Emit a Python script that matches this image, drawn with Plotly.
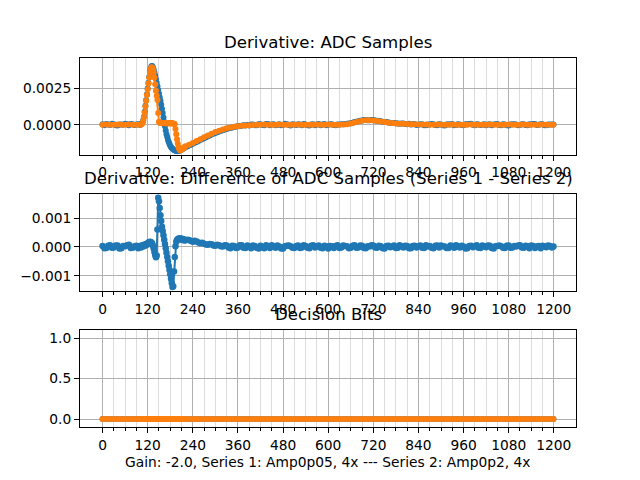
import numpy as np
import plotly.graph_objects as go

# sample indices (denser around the pulse)
samples_fine = list(range(0, 100, 5)) + list(range(100, 220, 2)) + list(range(220, 1200, 5)) + [1199]
samples = list(range(0, 100, 10)) + list(range(100, 220, 2)) + list(range(220, 1200, 10)) + [1199]

# x tick positions
major_ticks = list(range(0, 1201, 120))
minor_ticks = [t for t in range(30, 1200, 30) if t % 120]

# derivative of ADC samples, series 1 (units of 1e-4), on samples_fine
deriv_s1 = [
    0.3, -0.4, 0.5, 0.1, -0.2, 0.6, 0.4, -0.3, -0.5, 0.2,
    0.2, -0.1, 0.6, 0.3, -0.3, 0.5, 0.4, -0.2, 0.1, 0.3,
    # 100 .. 218, step 2
    -0.2, 0.4, 0.8, 1.5, 3.0, 5.5, 9.0, 13.0, 17.0, 21.0,
    25.0, 29.0, 33.0, 36.5, 39.0, 40.3, 40.5, 39.5, 38.0, 36.0,
    34.0, 31.5, 29.0, 26.5, 24.0, 21.5, 19.0, 16.5, 14.0, 11.0,
    8.0, 5.0, 2.0, -1.0, -4.0, -6.5, -8.5, -10.5, -12.0, -13.3,
    -14.5, -15.3, -16.0, -16.6, -17.0, -17.4, -17.7, -17.9, -18.1, -18.2,
    -18.3, -18.2, -18.0, -17.7, -17.4, -17.1, -16.8, -16.5, -16.2, -15.9,
    # 220 .. 1195, step 5
    -15.6, -15.0, -14.4, -13.8, -13.2, -12.5, -11.9, -11.2, -10.5, -9.9,
    -9.3, -8.6, -8.0, -7.4, -6.8, -6.2, -5.7, -5.2, -4.7, -4.2,
    -3.8, -3.3, -2.9, -2.5, -2.2, -1.9, -1.6, -1.3, -1.1, -0.9,
    -0.8, -0.4, -0.6, -0.2, -0.5, 0.1, 0.2, -0.4, -0.3, 0.3,
    0.3, -0.2, -0.4, 0.5, 0.5, -0.3, 0.1, 0.4, -0.3, -0.1,
    0.4, -0.4, -0.2, 0.6, 0.3, -0.1, -0.5, 0.3, 0.2, -0.2,
    0.4, 0.1, -0.3, 0.5, 0.1, -0.4, -0.5, 0.2, 0.3, -0.3,
    0.2, 0.5, -0.4, 0.1, 0.5, -0.3, -0.1, 0.4, 0.3, -0.2,
    -0.3, 0.1, 0.2, 0.4, 0.4, 0.3, 0.6, 0.8, 1.0, 1.4,
    1.8, 2.1, 2.4, 2.7, 2.9, 3.2, 3.3, 3.1, 3.1, 3.3,
    3.2, 2.9, 2.7, 2.6, 2.4, 2.1, 1.9, 1.8, 1.6, 1.3,
    1.2, 1.1, 1.0, 0.8, 0.7, 0.9, 0.8, 0.5, 0.4, 0.6,
    0.2, 0.4, 0.5, -0.2, -0.1, 0.4, 0.3, -0.3, -0.4, 0.2,
    0.2, 0.5, 0.4, -0.2, -0.3, 0.3, 0.1, -0.4, -0.5, 0.2,
    0.3, 0.1, 0.5, -0.3, -0.2, 0.4, 0.1, -0.2, -0.4, 0.3,
    0.3, 0.5, 0.6, -0.1, -0.3, 0.3, 0.2, -0.2, -0.1, 0.4,
    -0.4, 0.2, 0.3, -0.3, 0.1, 0.4, 0.5, -0.2, -0.3, 0.3,
    0.2, -0.4, -0.5, 0.1, 0.4, 0.3, 0.1, -0.3, -0.2, 0.4,
    0.3, -0.2, -0.4, 0.3, 0.2, 0.5, 0.5, -0.2, -0.1, 0.4,
    0.3, -0.4, -0.3, 0.1, 0.2, 0.1,
    0.2,
]

# derivative of ADC samples, series 2 (units of 1e-4), on samples
deriv_s2 = [
    0.0, 0.1, 0.0, -0.1, 0.1, 0.0, 0.0, 0.1, -0.1, 0.0,
    0.0, 0.1, 0.3, 1.0, 2.5, 5.0, 8.5, 12.5, 16.5, 20.5,
    24.5, 28.5, 32.5, 36.0, 38.5, 39.6, 39.5, 38.5, 36.0, 32.5,
    28.0, 23.5, 20.0, 17.0, 8.0, 2.0, 1.4, 1.2, 1.1, 1.0,
    1.1, 1.0, 1.2, 1.0, 1.1, 0.9, 1.0, 1.1, 1.0, 0.9,
    1.0, 1.1, 0.9, 1.0, 0.8, 0.7, 0.5, -3.0, -6.5, -10.0,
    -13.0, -15.5, -17.0, -17.8, -17.6, -17.2, -16.8, -16.4, -16.0, -15.6,
    -14.9, -13.8, -12.7, -11.3, -10.0, -8.7, -7.4, -6.2, -5.1, -4.2,
    -3.3, -2.5, -1.9, -1.4, -1.0, -0.7, -0.5, -0.3, -0.2, -0.1,
    0.0, 0.1, 0.0, -0.1, 0.0, 0.1, 0.0, 0.0, -0.1, 0.0,
    0.1, 0.0, 0.0, -0.1, 0.0, 0.1, 0.0, 0.0, 0.1, 0.0,
    0.0, 0.0, 0.1, 0.3, 0.8, 1.5, 2.2, 2.7, 3.0, 3.0,
    2.9, 2.6, 2.2, 1.8, 1.4, 1.1, 0.9, 0.7, 0.6, 0.5,
    0.4, 0.3, 0.2, 0.1, 0.1, 0.0, 0.0, 0.1, 0.0, 0.0,
    0.0, 0.1, 0.0, -0.1, 0.0, 0.0, 0.1, 0.0, 0.0, -0.1,
    0.0, 0.1, 0.0, 0.0, -0.1, 0.0, 0.1, 0.0, 0.0, 0.0,
    0.1, 0.0, 0.0, -0.1, 0.0, 0.1, 0.0, 0.0,
    0.0,
]

# derivative of the difference (series 1 - series 2), units of 1e-4, on samples_fine
deriv_diff = [
    0.3, -0.5, -0.4, 0.4, 0.6, -0.3, -0.2, 0.5, 0.5, -0.6,
    -0.5, 0.3, 0.2, 0.6, 0.7, -0.4, -0.3, 0.2, 0.4, -0.5,
    # 100 .. 218, step 2
    0.3, -0.2, 0.5, 0.1, 0.6, 0.2, 0.8, 0.5, 1.0, 0.7,
    1.2, 1.5, 1.6, 1.8, 1.7, 1.5, 1.2, 0.4, -0.6, -1.8,
    -2.8, -3.6, -3.0, 6.0, 17.0, 15.8, 13.5, 11.0, 9.0, 7.0,
    5.5, 4.0, 2.5, 1.0, -0.5, -2.0, -3.5, -5.0, -6.5, -8.0,
    -9.5, -11.0, -12.5, -13.9, -13.6, -8.5, -3.5, 0.2, 1.8, 2.4,
    2.6, 2.9, 2.7, 3.0, 2.6, 2.8, 2.4, 2.7, 2.3, 2.5,
    # 220 .. 1195, step 5
    2.2, 2.5, 2.4, 2.0, 1.8, 2.1, 1.9, 1.5, 1.3, 1.4,
    1.1, 0.8, 0.7, 1.0, 0.9, 0.5, 0.4, 0.7, 0.6, 0.2,
    0.1, 0.6, 0.5, -0.2, -0.5, 0.4, 0.3, -0.4, -0.2, 0.6,
    0.6, -0.3, -0.4, 0.5, 0.2, -0.5, 0.5, 0.3, -0.3, -0.6,
    0.4, -0.2, -0.5, 0.6, 0.2, -0.4, 0.6, 0.1, -0.3, 0.5,
    0.1, -0.6, -0.6, 0.2, 0.4, 0.5, 0.2, -0.3, -0.4, 0.3,
    0.5, -0.4, -0.2, 0.6, 0.3, -0.3, -0.5, 0.4, 0.6, -0.2,
    0.1, 0.5, -0.3, -0.5, 0.4, 0.2, -0.6, 0.3, 0.2, -0.4,
    0.3, 0.6, -0.4, -0.2, 0.5, 0.3, 0.2, -0.5, -0.3, 0.4,
    0.6, -0.3, -0.2, 0.5, 0.4, -0.4, -0.5, 0.2, 0.1, 0.6,
    0.5, -0.2, -0.3, 0.4, 0.2, -0.5, -0.6, 0.3, 0.4, -0.1,
    0.1, 0.5, -0.4, -0.3, 0.6, 0.2, -0.2, 0.4, 0.3, -0.5,
    -0.5, 0.3, 0.4, -0.2, 0.2, 0.5, -0.3, -0.4, 0.6, 0.1,
    0.3, -0.3, -0.5, 0.4, 0.5, -0.2, 0.5, 0.2, 0.1, -0.4,
    -0.4, 0.5, 0.3, -0.3, 0.6, 0.1, -0.2, 0.4, 0.1, -0.6,
    -0.5, 0.3, 0.4, -0.1, 0.2, 0.6, -0.3, -0.4, 0.5, 0.2,
    -0.1, 0.5, 0.4, -0.4, -0.6, 0.2, 0.3, 0.5, 0.2, -0.3,
    -0.4, 0.4, 0.5, -0.3, -0.2, 0.3, 0.1, 0.5, 0.6, -0.2,
    -0.3, 0.4, 0.2, -0.5, 0.5, 0.3, -0.4, 0.1, 0.3, -0.5,
    0.4, 0.2, -0.1, 0.5, 0.3, -0.2,
    0.1,
]

# decision bits: all zero
bits_s1 = [0] * len(samples)
bits_s2 = [0] * len(samples)

s1 = np.array(deriv_s1) * 1e-4
s2 = np.array(deriv_s2) * 1e-4
diff = np.array(deriv_diff) * 1e-4

BLUE = '#1f77b4'
ORANGE = '#ff7f0e'
FONT = 'DejaVu Sans'
TICK_SIZE = 13.8
TITLE_SIZE = 16.6

def trace(x, y, color, xa, ya, size=6):
    return go.Scatter(x=x, y=y, mode='lines+markers', xaxis=xa, yaxis=ya,
                      line=dict(color=color, width=2),
                      marker=dict(color=color, size=size, line=dict(width=0)),
                      showlegend=False)

fig = go.Figure()
fig.add_trace(trace(samples_fine, s1, BLUE, 'x', 'y'))
fig.add_trace(trace(samples, s2, ORANGE, 'x', 'y'))
fig.add_trace(trace(samples_fine, diff, BLUE, 'x2', 'y2', size=6.5))
fig.add_trace(trace(samples, bits_s1, BLUE, 'x3', 'y3'))
fig.add_trace(trace(samples, bits_s2, ORANGE, 'x3', 'y3'))

tops = [0.88, 0.59632, 0.31263]
doms = [[0.67737, 0.88], [0.39368, 0.59632], [0.11, 0.31263]]

def xaxis(anchor):
    return dict(domain=[0.125, 0.9], anchor=anchor, range=[-59.95, 1258.95],
                tickvals=major_ticks, ticks='outside', ticklen=5, tickwidth=1,
                tickcolor='black', showline=True, linecolor='black', linewidth=1,
                mirror=True, showgrid=True, gridcolor='#b0b0b0', gridwidth=1,
                zeroline=False, tickfont=dict(size=TICK_SIZE, color='black'),
                minor=dict(tickvals=minor_ticks, ticks='outside', ticklen=3,
                           tickcolor='black', showgrid=True,
                           gridcolor='#dcdcdc', gridwidth=1))

def yaxis(anchor, dom, rng, vals, fmt):
    return dict(domain=dom, anchor=anchor, range=rng, tickvals=vals,
                tickformat=fmt, ticks='outside', ticklen=5, tickwidth=1,
                tickcolor='black', showline=True, linecolor='black', linewidth=1,
                mirror=True, showgrid=True, gridcolor='#b0b0b0', gridwidth=1,
                zeroline=False, tickfont=dict(size=TICK_SIZE, color='black'))

titles = ['Derivative: ADC Samples',
          'Derivative: Difference of ADC Samples (Series 1 - Series 2)',
          'Decision Bits']
annotations = [dict(text=t, x=0.5125, xref='paper', y=top + 8 / 480, yref='paper',
                    xanchor='center', yanchor='bottom', yshift=-4, showarrow=False,
                    font=dict(size=TITLE_SIZE, color='black'))
               for t, top in zip(titles, tops)]
annotations.append(dict(text='Gain: -2.0, Series 1: Amp0p05, 4x --- Series 2: Amp0p2, 4x',
                        x=0.5125, xref='paper', y=1 - 462 / 480, yref='paper',
                        xanchor='center', yanchor='middle', showarrow=False,
                        font=dict(size=TICK_SIZE, color='black')))

fig.update_layout(
    width=640, height=480,
    margin=dict(l=0, r=0, t=0, b=0),
    paper_bgcolor='white', plot_bgcolor='white',
    font=dict(family=FONT, color='black'),
    xaxis=xaxis('y'), xaxis2=xaxis('y2'), xaxis3=xaxis('y3'),
    yaxis=yaxis('x', doms[0], [-0.00208, 0.00463], [0, 0.0025], '.4f'),
    yaxis2=yaxis('x2', doms[1], [-0.00153, 0.00184], [-0.001, 0, 0.001], '.3f'),
    yaxis3=yaxis('x3', doms[2], [-0.1, 1.1], [0, 0.5, 1.0], '.1f'),
    annotations=annotations,
)

fig.write_html("out.html", config={'displayModeBar': False},
               post_script="document.body.style.margin='0';")
